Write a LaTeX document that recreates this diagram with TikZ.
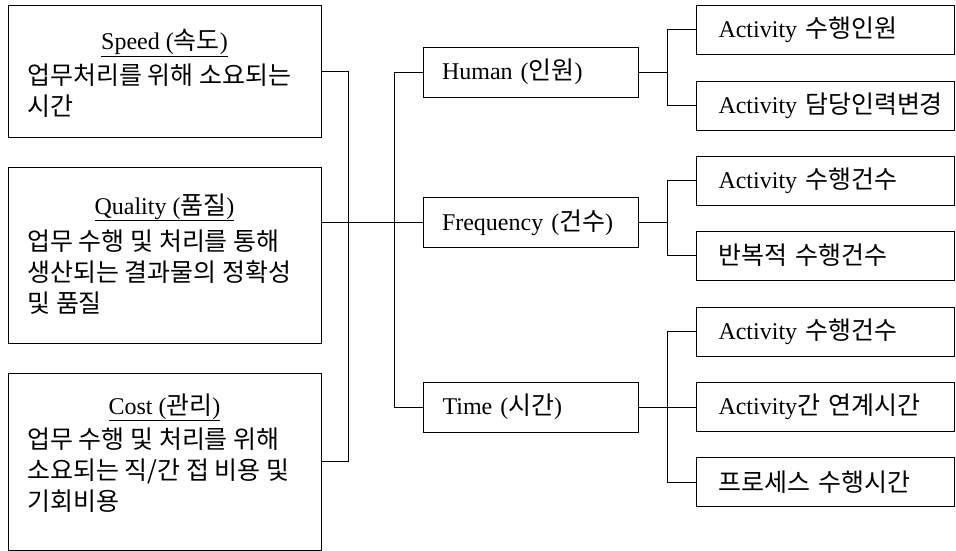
\documentclass[tikz,border=0pt]{standalone}
\usepackage{fontspec}
\setmainfont{Liberation Serif}
\newfontfamily\kr[Scale=1.04]{Noto Sans CJK KR}
\usetikzlibrary{calc,positioning}
\tikzset{>=latex}

\begin{document}
\begin{tikzpicture}[x=1pt,y=-1pt,line width=0.9pt,
    font=\fontsize{24}{31}\selectfont,
    leftbox/.style={draw,minimum width=313pt,inner sep=0pt},
    krtext/.style={align=left,inner sep=0pt,font=\kr\fontsize{24}{31}\selectfont},
    midbox/.style={draw,text width=177pt,inner xsep=19pt,minimum height=50pt,align=left},
    subbox/.style={draw,text width=214pt,inner xsep=22pt,minimum height=49pt,align=left}]
    \useasboundingbox (0,0) rectangle (956,551);
    % left column
    \node[leftbox,minimum height=132pt] (speed) at (164.5,71) {};
    \node[anchor=base,inner sep=0pt] (speedtitle) at (164.5,50) {\underline{Speed ({\kr 속도})}};
    \node[krtext,anchor=base west] (speedtext) at (27,115) {업무처리를 위해 소요되는\\시간};
    \node[leftbox,minimum height=176pt] (quality) at (164.5,255) {};
    \node[anchor=base,inner sep=0pt] (qualitytitle) at (164.5,214) {\underline{Quality ({\kr 품질})}};
    \node[krtext,anchor=base west] (qualitytext) at (27,312) {업무 수행 및 처리를 통해\\생산되는 결과물의 정확성\\및 품질};
    \node[leftbox,minimum height=177pt] (cost) at (164.5,461.5) {};
    \node[anchor=base,inner sep=0pt] (costtitle) at (164.5,414) {\underline{Cost ({\kr 관리})}};
    \node[krtext,anchor=base west] (costtext) at (27,510) {업무 수행 및 처리를 위해\\소요되는 직/간 접 비용 및\\기회비용};
    % middle column
    \node[midbox] (human) at (530.5,72) {Human ({\kr 인원})};
    \node[midbox] (freq) at (530.5,222.5) {Frequency ({\kr 건수})};
    \node[midbox] (time) at (531,407) {Time ({\kr 시간})};
    % right column
    \node[subbox] (hact) at (825.5,29.5) {Activity~{\kr 수행인원}};
    \node[subbox] (hchg) at (825.5,105.5) {Activity~{\kr 담당인력변경}};
    \node[subbox] (fact) at (825.5,180.5) {Activity~{\kr 수행건수}};
    \node[subbox] (frep) at (825.5,255.5) {{\kr 반복적~수행건수}};
    \node[subbox] (tact) at (825.5,331.5) {Activity~{\kr 수행건수}};
    \node[subbox] (tlink) at (825.5,407) {Activity{\kr 간~연계시간}};
    \node[subbox] (tproc) at (825.5,482) {{\kr 프로세스~수행시간}};
    % buses
    \coordinate (lbus) at (348,0);
    \coordinate (mbus) at (394,0);
    \coordinate (rbus) at (667,0);
    \draw (speed.east) -- (speed.east -| lbus) -- (cost.east -| lbus) -- (cost.east);
    \draw (freq.west) -- (freq.west -| quality.east);
    \draw (human.west) -- (human.west -| mbus) -- (time.west -| mbus) -- (time.west);
    \draw (human.east) -- (human.east -| rbus);
    \draw (hact.west) -- (hact.west -| rbus) -- (hchg.west -| rbus) -- (hchg.west);
    \draw (freq.east) -- (freq.east -| rbus);
    \draw (fact.west) -- (fact.west -| rbus) -- (frep.west -| rbus) -- (frep.west);
    \draw (time.east) -- (tlink.west);
    \draw (tact.west) -- (tact.west -| rbus) -- (tproc.west -| rbus) -- (tproc.west);
\end{tikzpicture}
\end{document}
